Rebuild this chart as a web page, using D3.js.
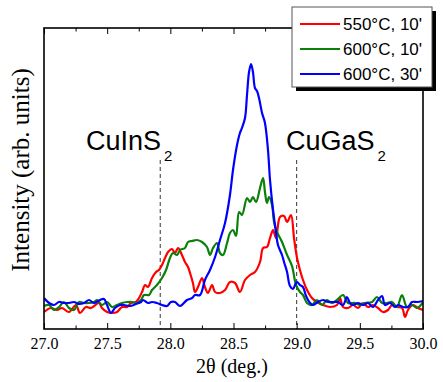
<!DOCTYPE html>
<html>
<head>
<meta charset="utf-8">
<script src="https://cdn.jsdelivr.net/npm/d3@7.9.0/dist/d3.min.js"></script>
<style>
  html, body { margin: 0; padding: 0; background: #fff; }
  svg { display: block; }
</style>
</head>
<body>
<svg id="chart" width="443" height="382"></svg>
<script>
// ---- data ----
const seriesNames = ["550°C, 10'", "600°C, 10'", "600°C, 30'"];
const seriesColors = ["#ff0000", "#0a7f0a", "#0000ff"];

const red2Theta = [27.000, 27.055, 27.103, 27.142, 27.198, 27.253, 27.285, 27.332, 27.372, 27.435, 27.459, 27.499, 27.538, 27.578, 27.617, 27.657, 27.689, 27.728, 27.752, 27.776, 27.800, 27.823, 27.855, 27.887, 27.910, 27.934, 27.958, 27.982, 28.013, 28.037, 28.061, 28.092, 28.116, 28.140, 28.156, 28.179, 28.195, 28.219, 28.251, 28.274, 28.298, 28.330, 28.354, 28.393, 28.433, 28.472, 28.512, 28.551, 28.591, 28.631, 28.670, 28.710, 28.734, 28.765, 28.789, 28.813, 28.836, 28.868, 28.900, 28.924, 28.955, 28.979, 29.003, 29.026, 29.050, 29.082, 29.121, 29.161, 29.208, 29.264, 29.319, 29.343, 29.367, 29.406, 29.446, 29.486, 29.525, 29.565, 29.604, 29.644, 29.683, 29.723, 29.755, 29.794, 29.834, 29.858, 29.881, 29.921, 29.960, 30.000];
const redIntensity = [17, 21, 19, 21, 17, 24, 16, 22, 21, 26, 21, 17, 16, 17, 22, 22, 26, 27, 31, 37, 44, 42, 51, 57, 59, 64, 71, 77, 80, 76, 81, 74, 67, 62, 56, 46, 37, 42, 51, 42, 36, 44, 37, 36, 39, 47, 46, 37, 49, 54, 57, 67, 81, 82, 91, 99, 91, 112, 113, 107, 114, 91, 71, 59, 49, 39, 31, 27, 24, 22, 24, 31, 22, 21, 24, 21, 26, 22, 24, 21, 17, 19, 24, 22, 21, 12, 19, 24, 21, 19];

const green2Theta = [27.000, 27.040, 27.079, 27.119, 27.158, 27.198, 27.237, 27.277, 27.317, 27.356, 27.396, 27.420, 27.459, 27.499, 27.538, 27.578, 27.617, 27.657, 27.697, 27.736, 27.768, 27.792, 27.831, 27.855, 27.894, 27.934, 27.966, 27.997, 28.021, 28.053, 28.077, 28.116, 28.140, 28.172, 28.211, 28.251, 28.290, 28.314, 28.338, 28.369, 28.393, 28.417, 28.449, 28.472, 28.496, 28.520, 28.544, 28.567, 28.607, 28.631, 28.654, 28.678, 28.710, 28.734, 28.749, 28.765, 28.781, 28.805, 28.821, 28.844, 28.884, 28.924, 28.963, 28.995, 29.026, 29.050, 29.082, 29.121, 29.161, 29.201, 29.240, 29.280, 29.319, 29.367, 29.406, 29.462, 29.501, 29.541, 29.596, 29.636, 29.676, 29.715, 29.755, 29.794, 29.834, 29.873, 29.913, 29.953, 30.000];
const greenIntensity = [23, 24, 19, 22, 27, 21, 19, 27, 26, 26, 27, 29, 24, 27, 22, 24, 26, 27, 27, 26, 29, 34, 34, 39, 44, 51, 59, 71, 76, 74, 79, 81, 87, 88, 89, 87, 82, 74, 81, 86, 76, 74, 86, 96, 99, 93, 117, 114, 131, 127, 132, 127, 141, 151, 137, 126, 132, 124, 107, 97, 87, 74, 63, 44, 37, 34, 26, 24, 29, 24, 29, 26, 29, 34, 26, 26, 24, 26, 27, 32, 26, 26, 27, 22, 34, 22, 24, 21, 27];

const blue2Theta = [27.000, 27.040, 27.079, 27.119, 27.158, 27.198, 27.237, 27.277, 27.317, 27.356, 27.396, 27.443, 27.475, 27.499, 27.530, 27.562, 27.602, 27.633, 27.681, 27.728, 27.768, 27.784, 27.823, 27.855, 27.894, 27.934, 27.974, 28.005, 28.037, 28.077, 28.132, 28.172, 28.195, 28.235, 28.274, 28.314, 28.354, 28.393, 28.433, 28.472, 28.496, 28.528, 28.551, 28.567, 28.591, 28.607, 28.623, 28.639, 28.654, 28.670, 28.686, 28.702, 28.726, 28.749, 28.773, 28.789, 28.813, 28.836, 28.852, 28.884, 28.900, 28.924, 28.947, 28.971, 28.987, 29.003, 29.026, 29.050, 29.074, 29.106, 29.129, 29.169, 29.208, 29.248, 29.288, 29.327, 29.367, 29.398, 29.422, 29.446, 29.486, 29.525, 29.565, 29.604, 29.644, 29.676, 29.699, 29.739, 29.778, 29.802, 29.842, 29.881, 29.913, 29.953, 30.000];
const blueIntensity = [31, 26, 24, 27, 26, 26, 27, 25, 26, 29, 26, 29, 30, 24, 16, 21, 24, 24, 23, 25, 27, 29, 26, 27, 26, 24, 23, 27, 27, 23, 29, 31, 34, 34, 49, 59, 72, 89, 106, 134, 159, 184, 196, 201, 211, 234, 257, 265, 257, 241, 238, 231, 216, 206, 179, 149, 119, 97, 84, 74, 67, 57, 43, 40, 44, 47, 44, 42, 33, 26, 24, 27, 29, 27, 27, 27, 24, 32, 26, 24, 26, 24, 26, 22, 29, 33, 24, 26, 22, 24, 22, 22, 27, 27, 28];

const xTicksMajor = [27.0, 27.5, 28.0, 28.5, 29.0, 29.5, 30.0];
const xTicksMinor = [27.25, 27.75, 28.25, 28.75, 29.25, 29.75];
const refLines = [27.92, 29.0];

// ---- layout ----
const plotL = 44, plotR = 423, plotT = 28, plotB = 329;
const svg = d3.select("#chart");

const x = d3.scaleLinear().domain([27, 30]).range([plotL, plotR]);
const y = d3.scaleLinear().domain([0, 301]).range([plotB, plotT]);

const series = [
  { name: seriesNames[0], color: seriesColors[0], xs: red2Theta, ys: redIntensity },
  { name: seriesNames[1], color: seriesColors[1], xs: green2Theta, ys: greenIntensity },
  { name: seriesNames[2], color: seriesColors[2], xs: blue2Theta, ys: blueIntensity },
];

// clip so curves stay inside the frame
svg.append("clipPath").attr("id", "plotClip")
  .append("rect").attr("x", plotL).attr("y", plotT).attr("width", plotR - plotL).attr("height", plotB - plotT);

// reference dashed lines
svg.append("g").selectAll("line")
  .data(refLines)
  .join("line")
  .attr("x1", d => x(d)).attr("x2", d => x(d))
  .attr("y1", 160).attr("y2", plotB)
  .attr("stroke", "#333").attr("stroke-width", 1)
  .attr("stroke-dasharray", "4,3");

// curves
const line = d3.line()
  .x(d => x(d[0]))
  .y(d => y(d[1]))
  .curve(d3.curveCatmullRom.alpha(0.5));

svg.append("g").attr("clip-path", "url(#plotClip)")
  .selectAll("path")
  .data(series)
  .join("path")
  .attr("d", s => line(s.xs.map((v, i) => [v, s.ys[i]])))
  .attr("fill", "none")
  .attr("stroke", s => s.color)
  .attr("stroke-width", 2.2)
  .attr("stroke-linejoin", "round");

// frame
svg.append("rect")
  .attr("x", plotL).attr("y", plotT)
  .attr("width", plotR - plotL).attr("height", plotB - plotT)
  .attr("fill", "none").attr("stroke", "#000").attr("stroke-width", 1.6);

// ticks (inward, bottom and top)
const serif = "'Liberation Serif', 'Times New Roman', serif";
const bottomAxis = svg.append("g").attr("transform", `translate(0,${plotB})`);
bottomAxis.call(d3.axisBottom(x).tickValues(xTicksMajor).tickSize(-6).tickFormat(d3.format(".1f")));
bottomAxis.append("g").call(d3.axisBottom(x).tickValues(xTicksMinor).tickSize(-3.5).tickFormat(""));
bottomAxis.selectAll(".domain").remove();
bottomAxis.selectAll("line").attr("stroke", "#000").attr("stroke-width", 1);
bottomAxis.selectAll("text")
  .attr("y", 20).attr("dy", 0)
  .attr("font-family", serif)
  .attr("font-size", 16).attr("fill", "#000");

const topAxis = svg.append("g").attr("transform", `translate(0,${plotT})`);
topAxis.call(d3.axisTop(x).tickValues(xTicksMajor).tickSize(-6).tickFormat(""));
topAxis.append("g").call(d3.axisTop(x).tickValues(xTicksMinor).tickSize(-3.5).tickFormat(""));
topAxis.selectAll(".domain").remove();
topAxis.selectAll("line").attr("stroke", "#000").attr("stroke-width", 1);

// axis titles
svg.append("text")
  .attr("x", 232).attr("y", 373)
  .attr("text-anchor", "middle")
  .attr("font-family", serif).attr("font-size", 20)
  .text("2θ (deg.)");

svg.append("text")
  .attr("transform", "translate(29,170) rotate(-90)")
  .attr("text-anchor", "middle")
  .attr("font-family", serif).attr("font-size", 25)
  .text("Intensity (arb. units)");

// phase labels
const sans = "'Liberation Sans', Arial, sans-serif";
function phaseLabel(px, base) {
  const t = svg.append("text")
    .attr("x", px).attr("y", 150)
    .attr("font-family", sans).attr("font-size", 27);
  t.append("tspan").text(base);
  t.append("tspan").attr("dx", 3).attr("dy", 11).attr("font-size", 15).text("2");
}
phaseLabel(86, "CuInS");
phaseLabel(286, "CuGaS");

// legend
const lg = svg.append("g").attr("transform", "translate(292,7)");
lg.append("rect").attr("x", 4).attr("y", 4).attr("width", 140).attr("height", 80).attr("fill", "#000");
lg.append("rect").attr("x", 0).attr("y", 0).attr("width", 140).attr("height", 80)
  .attr("fill", "#fff").attr("stroke", "#555").attr("stroke-width", 1);
const items = lg.selectAll("g.item")
  .data(series)
  .join("g")
  .attr("class", "item")
  .attr("transform", (_, i) => `translate(0,${17 + i * 25})`);
items.append("line")
  .attr("x1", 8).attr("x2", 48)
  .attr("stroke", d => d.color).attr("stroke-width", 2);
items.append("text")
  .attr("x", 51).attr("y", 6)
  .attr("font-family", sans).attr("font-size", 17)
  .text(d => d.name);
</script>
</body>
</html>
